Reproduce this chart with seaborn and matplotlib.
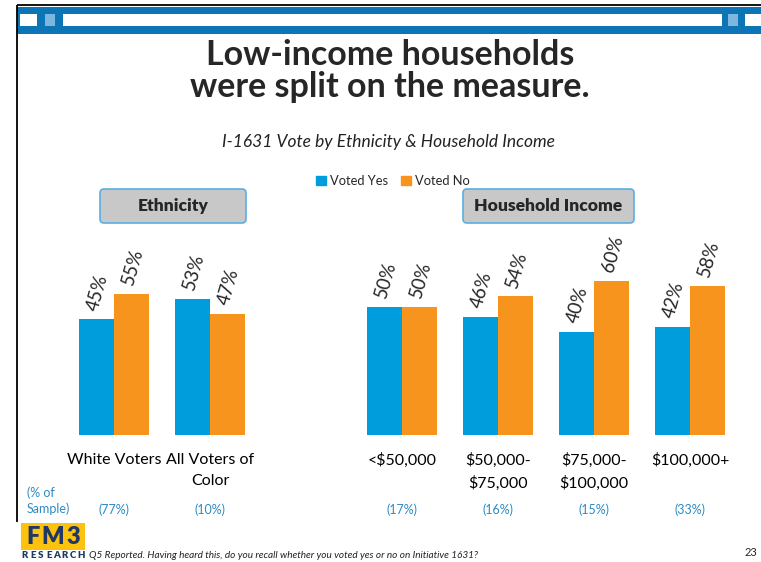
import numpy as np
import pandas as pd
import matplotlib
matplotlib.use('Agg')
import matplotlib.pyplot as plt
import matplotlib.transforms as mtransforms
from matplotlib.patches import FancyBboxPatch, Rectangle, Patch
import seaborn as sns

# chart values
categories = ['White Voters', 'All Voters of\nColor', '<$50,000',
              '$50,000-\n$75,000', '$75,000-\n$100,000', '$100,000+']
voted_yes = [45, 53, 50, 46, 40, 42]
voted_no = [55, 47, 50, 54, 60, 58]
sample_share = ['(77%)', '(10%)', '(17%)', '(16%)', '(15%)', '(33%)']
series_names = ['Voted Yes', 'Voted No']

title = 'Low-income households\nwere split on the measure.'
subtitle = 'I-1631 Vote by Ethnicity & Household Income'
footnote = 'Q5 Reported. Having heard this, do you recall whether you voted yes or no on Initiative 1631?'

BLUE = '#009DDC'
ORANGE = '#F7941D'
BAND = '#0B75B5'
NOTE_BLUE = '#2E8BC4'
NAVY = '#1F3864'

sns.set_theme(style='white')
plt.rcParams['font.family'] = ['Lato', 'DejaVu Sans']

W, H = 761, 562
fig = plt.figure(figsize=(W / 100, H / 100), dpi=100)

# slot positions: one empty slot between the two groups
slots = [0, 1, 3, 4, 5, 6]
df = pd.DataFrame({
    'pos': slots * 2,
    'pct': voted_yes + voted_no,
    'vote': [series_names[0]] * 6 + [series_names[1]] * 6,
})

# bar axes (pixel layout: x=0 at 114px, 96px per slot, bottom at 435px, 2.57px per %)
x0 = (114 - 0.6 * 96) / W
ax = fig.add_axes([x0, (H - 435) / H, 7.2 * 96 / W, 257 / H])
sns.barplot(data=df, x='pos', y='pct', hue='vote', native_scale=True,
            width=0.73, palette=[BLUE, ORANGE], saturation=1, linewidth=0,
            legend=False, ax=ax)
ax.set_xlim(-0.6, 6.6)
ax.set_ylim(0, 100)
ax.set_xlabel('')
ax.set_ylabel('')
ax.set_yticks([])
ax.set_xticks(slots, categories)
ax.tick_params(axis='x', length=0, pad=13, labelsize=11.5, colors='black')
for t in ax.get_xticklabels():
    t.set_linespacing(1.6)
sns.despine(ax=ax, left=True, bottom=True)
ax.patch.set_alpha(0)

for cont in ax.containers:
    for bar in cont:
        h = bar.get_height()
        ax.annotate(f'{h:.0f}%', (bar.get_x() + bar.get_width() / 2, h),
                    xytext=(1, 27), textcoords='offset pixels',
                    ha='center', va='center', rotation=74, fontsize=13.5)

# share of sample row
blend = mtransforms.blended_transform_factory(ax.transData, fig.transFigure)
for s, lab in zip(slots, sample_share):
    ax.text(s, 1 - 510 / H, lab, transform=blend, ha='center', va='center',
            fontsize=9, color=NOTE_BLUE)

# overlay in pixel coordinates for the slide decorations
ov = fig.add_axes([0, 0, 1, 1], zorder=-1)
ov.set_xlim(0, W)
ov.set_ylim(H, 0)
ov.axis('off')

ov.add_patch(Rectangle((17, 7), W - 17, 27, color=BAND, lw=0))
for xa, xb, c in [(20, 37, 'white'), (45, 55, '#7DB7DD'), (63, 722, 'white'),
                  (728, 738, '#7DB7DD'), (745, 761, 'white')]:
    ov.add_patch(Rectangle((xa, 14), xb - xa, 12, color=c, lw=0))
ov.plot([17, W], [5, 5], color='black', lw=1.3, solid_capstyle='butt')
ov.plot([17, 17], [5, 522], color='black', lw=1.3, solid_capstyle='butt')

ov.text(390, 71, title, ha='center', va='center', fontsize=24.5,
        fontweight='bold', linespacing=1.0)
ov.text(389, 142, subtitle, ha='center', va='center', fontsize=12.5,
        style='italic', color='#222222')

for (xa, xb, lab) in [(100, 246, 'Ethnicity'), (463, 634, 'Household Income')]:
    ov.add_patch(FancyBboxPatch((xa + 4, 193), xb - xa - 8, 26,
                                boxstyle='round,pad=4', fc='#C8C8C8',
                                ec='#5AAEE0', lw=1.2))
    ov.text((xa + xb) / 2, 206, lab, ha='center', va='center',
            fontsize=12.5, fontweight='heavy')

handles = [Patch(color=BLUE), Patch(color=ORANGE)]
fig.legend(handles, series_names, loc='center',
           bbox_to_anchor=(393 / W, 1 - 181 / H), ncol=2, frameon=False,
           handlelength=0.75, handleheight=0.75, columnspacing=1.0,
           handletextpad=0.35, fontsize=9.3)

ov.text(27, 501, '(% of\nSample)', ha='left', va='center', fontsize=9,
        color=NOTE_BLUE, linespacing=1.35)

# logo
ov.add_patch(Rectangle((21, 523), 64, 27, color='#FDC20F', lw=0))
for xc, ch in zip([33, 53, 73], 'FM3'):
    ov.text(xc, 537, ch, ha='center', va='center', fontsize=17,
            fontweight='heavy', color=NAVY)
for xc, ch in zip(np.linspace(25, 81, 8), 'RESEARCH'):
    ov.text(xc, 556, ch, ha='center', va='center', fontsize=7,
            fontweight='heavy', color=NAVY)
ov.text(89, 556, footnote, ha='left', va='center', fontsize=7.2,
        style='italic', color='#222222')
ov.text(751, 553, '23', ha='center', va='center', fontsize=8)

fig.savefig('out.png', dpi=100)
